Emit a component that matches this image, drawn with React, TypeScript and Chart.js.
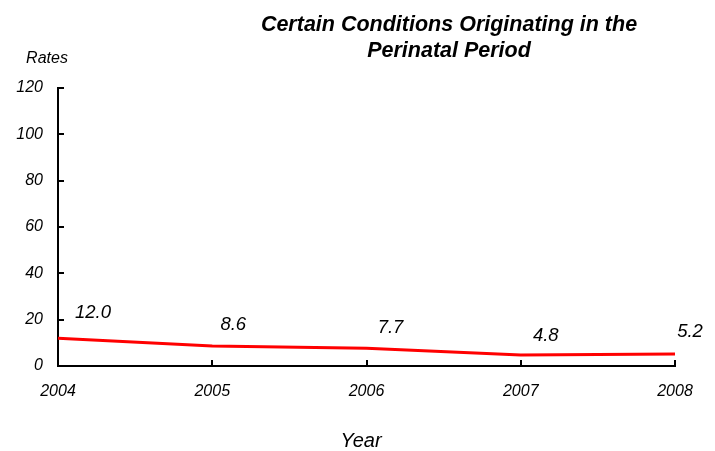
import React, { useEffect, useRef } from "react";
import { Chart, registerables } from "chart.js";

Chart.register(...registerables);

const years = ["2004", "2005", "2006", "2007", "2008"];
const rates = [12.0, 8.6, 7.7, 4.8, 5.2];
const rateLabels = ["12.0", "8.6", "7.7", "4.8", "5.2"];
const titleLines = ["Certain Conditions Originating in the", "Perinatal Period"];
const yAxisTitle = "Rates";
const xAxisTitle = "Year";

const FONT = "'Liberation Sans', Arial, Helvetica, sans-serif";
// label offsets from each point (style only)
const labelOffsets: [number, number][] = [
  [35, -25],
  [21, -21],
  [24, -20],
  [25, -19],
  [15, -22],
];

const decorPlugin = {
  id: "decor",
  afterDraw(chart: any) {
    const ctx = chart.ctx;
    const xs = chart.scales.x;
    const ys = chart.scales.y;
    const area = chart.chartArea;
    ctx.save();
    // inward tick marks
    ctx.strokeStyle = "#000";
    ctx.lineWidth = 2;
    ys.ticks.forEach((t: any) => {
      const y = Math.round(ys.getPixelForValue(t.value));
      ctx.beginPath();
      ctx.moveTo(area.left, y);
      ctx.lineTo(area.left + 6, y);
      ctx.stroke();
    });
    xs.ticks.forEach((_t: any, i: number) => {
      const x = Math.round(xs.getPixelForValue(i));
      ctx.beginPath();
      ctx.moveTo(x, area.bottom);
      ctx.lineTo(x, area.bottom - 6);
      ctx.stroke();
    });
    // data labels
    const meta = chart.getDatasetMeta(0);
    ctx.fillStyle = "#000";
    ctx.font = `italic 18.5px ${FONT}`;
    ctx.textAlign = "center";
    ctx.textBaseline = "middle";
    meta.data.forEach((pt: any, i: number) => {
      const [dx, dy] = labelOffsets[i];
      ctx.fillText(rateLabels[i], pt.x + dx, pt.y + dy);
    });
    // title
    ctx.font = `italic bold 21.5px ${FONT}`;
    ctx.textBaseline = "alphabetic";
    ctx.fillText(titleLines[0], 449, 31);
    ctx.fillText(titleLines[1], 449, 57);
    // axis titles
    ctx.font = `italic 16px ${FONT}`;
    ctx.fillText(yAxisTitle, 47, 63);
    ctx.font = `italic 20px ${FONT}`;
    ctx.fillText(xAxisTitle, 361, 447);
    ctx.restore();
  },
};

export default function App() {
  const ref = useRef<HTMLCanvasElement>(null);
  useEffect(() => {
    if (!ref.current) return;
    const chart = new Chart(ref.current, {
      type: "line",
      data: {
        labels: years,
        datasets: [
          {
            data: rates,
            borderColor: "#ff0000",
            backgroundColor: "#ff0000",
            borderWidth: 3,
            pointRadius: 0,
            tension: 0,
          },
        ],
      },
      options: {
        responsive: false,
        animation: false,
        layout: { padding: { left: 0, top: 88, right: 40, bottom: 0 } },
        plugins: {
          legend: { display: false },
          title: { display: false },
          tooltip: { enabled: false },
        },
        scales: {
          x: {
            type: "category",
            offset: false,
            grid: { display: false, drawTicks: false },
            border: { display: true, color: "#000", width: 2 },
            ticks: {
              color: "#000",
              padding: 16,
              maxRotation: 0,
              autoSkip: false,
              font: { family: FONT, size: 16, style: "italic" },
            },
            afterFit(scale: any) {
              scale.height = 85;
            },
          },
          y: {
            min: 0,
            max: 120,
            grid: { display: false, drawTicks: false },
            border: { display: true, color: "#000", width: 2 },
            ticks: {
              stepSize: 20,
              color: "#000",
              padding: 15,
              font: { family: FONT, size: 16, style: "italic" },
            },
            afterFit(scale: any) {
              scale.width = 58;
            },
          },
        },
      },
      plugins: [decorPlugin],
    });
    return () => chart.destroy();
  }, []);
  return (
    <div style={{ position: "fixed", left: 0, top: 0, width: 715, height: 451, background: "#fff" }}>
      <canvas ref={ref} width={715} height={451} style={{ display: "block" }} />
    </div>
  );
}
